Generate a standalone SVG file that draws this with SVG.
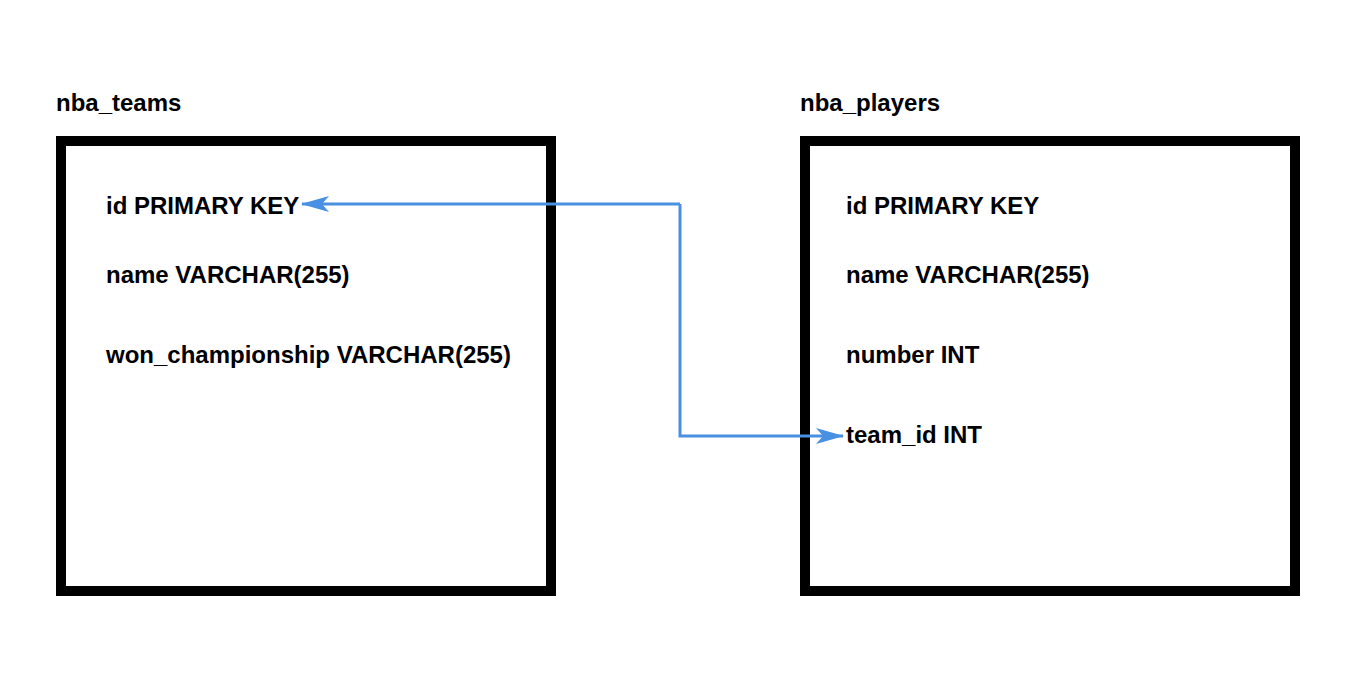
<svg xmlns="http://www.w3.org/2000/svg" width="1364" height="674" viewBox="0 0 1364 674">
<style>
text{font-family:"Liberation Sans",Arial,sans-serif;font-weight:bold;font-size:24px;fill:#000}
.box{fill:#fff;stroke:#000;stroke-width:10}
.conn{fill:none;stroke:#4a90e2;stroke-width:3}
</style>
<defs>
<marker id="arr" viewBox="0 0 28 16" refX="27" refY="8" markerWidth="28" markerHeight="16" markerUnits="userSpaceOnUse" orient="auto">
<path d="M0,0 L28,8 L0,16 L7,8 Z" fill="#4a90e2"/>
</marker>
</defs>
<rect width="1364" height="674" fill="#fff"/>
<g id="nba_teams">
<text x="56" y="111">nba_teams</text>
<rect class="box" x="61" y="141" width="490" height="450"/>
<text x="106" y="214">id PRIMARY KEY</text>
<text x="106" y="283">name VARCHAR(255)</text>
<text x="106" y="363">won_championship VARCHAR(255)</text>
</g>
<g id="nba_players">
<text x="800" y="111">nba_players</text>
<rect class="box" x="805" y="141" width="490" height="450"/>
<text x="846" y="214">id PRIMARY KEY</text>
<text x="846" y="283">name VARCHAR(255)</text>
<text x="846" y="363">number INT</text>
<text x="846" y="443">team_id INT</text>
</g>
<g id="connectors">
<path class="conn" d="M680,204 L302,204" marker-end="url(#arr)"/>
<path class="conn" d="M680,204 L680,436 L843,436" marker-end="url(#arr)"/>
</g>
</svg>
